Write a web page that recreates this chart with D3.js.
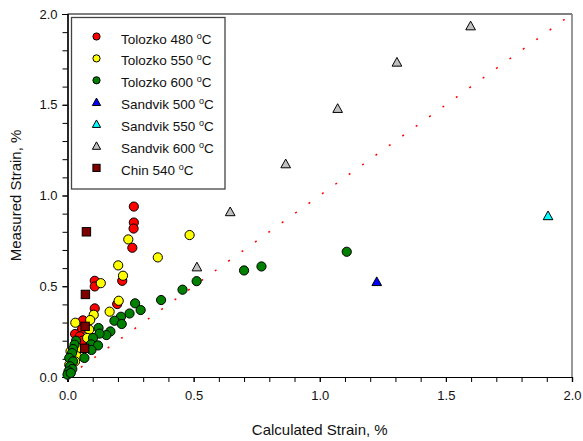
<!DOCTYPE html>
<html>
<head>
<meta charset="utf-8">
<script src="https://cdn.jsdelivr.net/npm/d3@7"></script>
<style>
  body { margin: 0; background: #fff; }
  svg text { font-family: Arial, "Liberation Sans", sans-serif; fill: #111; }
</style>
</head>
<body>
<div id="chart"></div>
<script>
/*
 * Measured vs calculated strain scatter
 */

var tolozko480 = [
  [0.263, 0.939], [0.263, 0.851], [0.262, 0.818], [0.257, 0.712], [0.217, 0.530],
  [0.108, 0.530], [0.108, 0.499], [0.197, 0.402], [0.108, 0.378], [0.061, 0.312],
  [0.058, 0.264], [0.030, 0.237], [0.049, 0.224], [0.060, 0.200]
];
var tolozko550 = [
  [0.484, 0.782], [0.241, 0.758], [0.358, 0.659], [0.201, 0.615], [0.220, 0.558],
  [0.132, 0.517], [0.203, 0.420], [0.167, 0.360], [0.104, 0.343], [0.090, 0.314],
  [0.031, 0.299], [0.086, 0.261], [0.078, 0.215], [0.041, 0.160], [0.012, 0.141],
  [0.037, 0.114], [0.030, 0.086], [0.007, 0.068]
];
var tolozko600 = [
  [1.107, 0.690], [0.769, 0.609], [0.700, 0.587], [0.512, 0.528], [0.456, 0.481],
  [0.371, 0.424], [0.268, 0.406], [0.290, 0.369], [0.246, 0.350], [0.212, 0.332],
  [0.186, 0.310], [0.215, 0.292], [0.123, 0.270], [0.170, 0.251], [0.154, 0.231],
  [0.127, 0.239], [0.101, 0.215], [0.093, 0.180], [0.121, 0.174], [0.095, 0.149],
  [0.067, 0.105], [0.034, 0.200], [0.028, 0.178], [0.022, 0.154], [0.018, 0.132],
  [0.007, 0.105], [0.022, 0.086], [0.010, 0.059], [0.019, 0.044], [0.004, 0.031],
  [0.000, 0.013], [0.013, 0.022]
];
var sandvik500 = [[1.226, 0.525]];
var sandvik550 = [[1.905, 0.888]];
var sandvik600 = [
  [1.598, 1.934], [1.306, 1.734], [1.071, 1.479], [0.865, 1.174], [0.645, 0.910], [0.513, 0.606]
];
var chin540 = [[0.075, 0.800], [0.071, 0.455], [0.070, 0.279], [0.068, 0.158]];

var seriesNames = ['Tolozko 480', 'Tolozko 550', 'Tolozko 600', 'Sandvik 500', 'Sandvik 550', 'Sandvik 600', 'Chin 540'];
var seriesData = [tolozko480, tolozko550, tolozko600, sandvik500, sandvik550, sandvik600, chin540];
var seriesColors = ['#ff0000', '#ffff00', '#008000', '#0000ff', '#00ffff', '#c0c0c0', '#800000'];
var seriesShapes = ['circle', 'circle', 'circle', 'triangle', 'triangle', 'triangle', 'square'];

var majorTicks = [0, 0.5, 1.0, 1.5, 2.0];
var minorTicks = d3.range(0, 2.001, 0.1);
var xTitle = 'Calculated Strain, %';
var yTitle = 'Measured Strain, %';

var width = 583, height = 441;
var margin = { top: 14, right: 11, bottom: 64, left: 67.5 };
var w = width - margin.left - margin.right;
var h = height - margin.top - margin.bottom;

var svg = d3.select('#chart').append('svg')
  .attr('width', width)
  .attr('height', height);

var g = svg.append('g')
  .attr('transform', 'translate(' + margin.left + ',' + margin.top + ')');

var x = d3.scaleLinear().domain([0, 2]).range([0, w]);
var y = d3.scaleLinear().domain([0, 2]).range([h, 0]);

// frame (top/right in gray)
g.append('line').attr('x1', 0).attr('x2', w).attr('y1', 0).attr('y2', 0)
  .attr('stroke', '#555').attr('stroke-width', 1.5);
g.append('line').attr('x1', w).attr('x2', w).attr('y1', 0).attr('y2', h)
  .attr('stroke', '#777').attr('stroke-width', 1.5);

// 1:1 line, red dotted
g.append('path')
  .datum([[0, 0], [2, 2]])
  .attr('d', d3.line().x(function (d) { return x(d[0]); }).y(function (d) { return y(d[1]); }))
  .attr('stroke', '#ff0000')
  .attr('stroke-width', 1.5)
  .attr('stroke-dasharray', '2,14.5')
  .attr('fill', 'none');

// axes
var xAxis = g.append('g').attr('transform', 'translate(0,' + h + ')')
  .call(d3.axisBottom(x).tickValues(minorTicks).tickSize(5).tickFormat(''));
xAxis.append('g')
  .call(d3.axisBottom(x).tickValues(majorTicks).tickSize(5).tickPadding(9).tickFormat(d3.format('.1f')));

var yAxis = g.append('g')
  .call(d3.axisLeft(y).tickValues(minorTicks).tickSize(5).tickFormat(''));
yAxis.append('g')
  .call(d3.axisLeft(y).tickValues(majorTicks).tickSize(5).tickPadding(5).tickFormat(d3.format('.1f')));

g.selectAll('.domain').attr('stroke', '#000').attr('stroke-width', 1.2);
g.selectAll('.tick line').attr('stroke', '#000');
g.selectAll('.tick text').style('font-size', '13px').attr('fill', '#111');

// axis titles
svg.append('text')
  .attr('x', margin.left + w / 2)
  .attr('y', 435)
  .attr('text-anchor', 'middle')
  .style('font-size', '15px')
  .text(xTitle);

svg.append('text')
  .attr('transform', 'translate(21,' + (margin.top + h / 2) + ') rotate(-90)')
  .attr('text-anchor', 'middle')
  .style('font-size', '15px')
  .text(yTitle);

function drawMarker(sel, shape, size) {
  if (shape === 'circle') {
    return sel.append('circle').attr('r', size);
  }
  if (shape === 'square') {
    return sel.append('rect')
      .attr('x', -size).attr('y', -size)
      .attr('width', size * 2).attr('height', size * 2);
  }
  var s = size * 1.15;
  return sel.append('path')
    .attr('d', 'M0,' + (-s) + 'L' + s + ',' + (s * 0.8) + 'L' + (-s) + ',' + (s * 0.8) + 'Z');
}

// points
var plot = g.append('g');
seriesData.forEach(function (data, i) {
  plot.selectAll('.pt-' + i)
    .data(data)
    .enter().append('g')
    .attr('class', 'pt-' + i)
    .attr('transform', function (d) { return 'translate(' + x(d[0]) + ',' + y(d[1]) + ')'; })
    .each(function () {
      drawMarker(d3.select(this), seriesShapes[i], seriesShapes[i] === 'circle' ? 4.6 : 4.2)
        .attr('fill', seriesColors[i])
        .attr('stroke', '#000')
        .attr('stroke-width', 1);
    });
});

// legend
var legend = svg.append('g').attr('transform', 'translate(71.5,17.5)');
legend.append('rect')
  .attr('width', 153.5).attr('height', 171.5)
  .attr('fill', '#fff')
  .attr('stroke', '#444')
  .attr('stroke-width', 1.3);

seriesNames.forEach(function (name, i) {
  var row = legend.append('g').attr('transform', 'translate(0,' + (20 + i * 21.9) + ')');
  drawMarker(row.append('g').attr('transform', 'translate(25,-1)'), seriesShapes[i], 3.6)
    .attr('fill', seriesColors[i])
    .attr('stroke', '#000')
    .attr('stroke-width', 1);
  var t = row.append('text')
    .attr('x', 49.5)
    .attr('y', 6)
    .style('font-size', '13.5px');
  t.append('tspan').text(name + ' ');
  t.append('tspan').attr('dy', -5).style('font-size', '9px').text('o');
  t.append('tspan').attr('dy', 5).text('C');
});
</script>
</body>
</html>
